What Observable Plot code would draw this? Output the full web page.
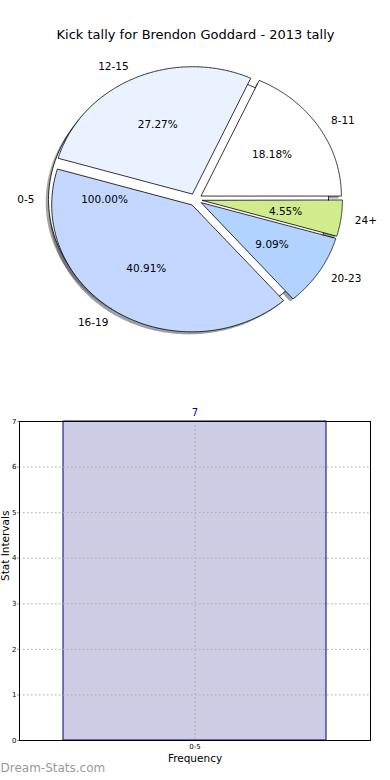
<!DOCTYPE html>
<html><head><meta charset="utf-8">
<script src="https://cdn.jsdelivr.net/npm/d3@7"></script>
<script src="https://cdn.jsdelivr.net/npm/@observablehq/plot@0.6"></script>
<style>
html,body{margin:0;padding:0;background:#fff;}
#chart svg{display:block;}
</style></head><body><div id="chart"></div>
<script>
// ---- data ----
const title = "Kick tally for Brendon Goddard - 2013 tally";
const pieLabels = ["0-5", "8-11", "12-15", "16-19", "20-23", "24+"];
const pieFractions = [1.0, 0.1818, 0.2727, 0.4091, 0.0909, 0.0455];
const pieColors = ["#ffffff", "#ffffff", "#eaf1ff", "#c4d8ff", "#b2d3ff", "#d0ec8c"];
const barCategories = ["0-5"];
const barValues = [7];
const yTicks = [0, 1, 2, 3, 4, 5, 6, 7];
const xLabel = "Frequency";
const yLabel = "Stat Intervals";
const watermark = "Dream-Stats.com";

// ---- pie geometry (normalize = false, explode all) ----
const explode = 0.05, labelDist = 1.1, pctDist = 0.6, shadowOff = 0.02;
const FONT = "DejaVu Sans, sans-serif";
let acc = 0;
const wedges = pieLabels.map((label, i) => {
  const t1 = acc * 360, t2 = (acc + pieFractions[i]) * 360;
  acc += pieFractions[i];
  const mid = ((t1 + t2) / 2) * Math.PI / 180;
  const ox = explode * Math.cos(mid), oy = explode * Math.sin(mid);
  const full = (t2 - t1) >= 360 - 1e-9;
  const pts = [];
  if (!full) pts.push({x: ox, y: oy});
  const N = 180;
  for (let k = 0; k <= N; k++) {
    const a = (t1 + (t2 - t1) * k / N) * Math.PI / 180;
    pts.push({x: ox + Math.cos(a), y: oy + Math.sin(a)});
  }
  const c = d3.rgb(pieColors[i]);
  return {
    label, frac: pieFractions[i], color: pieColors[i],
    shadowColor: d3.rgb(c.r * 0.3, c.g * 0.3, c.b * 0.3).formatHex(),
    pts,
    shadow: pts.map(p => ({x: p.x - shadowOff, y: p.y - shadowOff})),
    lx: ox + labelDist * Math.cos(mid), ly: oy + labelDist * Math.sin(mid),
    px: ox + pctDist * Math.cos(mid), py: oy + pctDist * Math.sin(mid),
    pct: (pieFractions[i] * 100).toFixed(2) + "%"
  };
});

// ---- pie plot ----
const W = 390, H1 = 370, H2 = 410;
const cx = 195, cy = 199, Rx = 140, Ry = 127;
const pie = Plot.plot({
  width: W, height: H1, margin: 0,
  style: {fontFamily: FONT, background: "#fff"},
  x: {type: "linear", domain: [-cx / Rx, (W - cx) / Rx], range: [0, W], axis: null},
  y: {type: "linear", domain: [-(H1 - cy) / Ry, cy / Ry], range: [H1, 0], axis: null},
  marks: [
    ...wedges.map(w => Plot.line(w.shadow, {x: "x", y: "y", curve: "linear-closed", fill: w.shadowColor, fillOpacity: 0.5, stroke: "none"})),
    ...wedges.map(w => Plot.line(w.pts, {x: "x", y: "y", curve: "linear-closed", fill: w.color, stroke: "#000", strokeWidth: 0.8})),
    Plot.text(wedges, {x: "px", y: "py", text: "pct", fontSize: 10.5, fill: "#000"}),
    Plot.text(wedges.filter(w => w.lx > 0), {x: "lx", y: "ly", text: "label", textAnchor: "start", fontSize: 10.5, fill: "#000"}),
    Plot.text(wedges.filter(w => w.lx <= 0), {x: "lx", y: "ly", text: "label", textAnchor: "end", fontSize: 10.5, fill: "#000"}),
    Plot.text([title], {frameAnchor: "top", dy: 29, fontSize: 13, fill: "#000"})
  ]
});

// ---- bar plot ----
const barData = barCategories.map((c, i) => ({cat: c, value: barValues[i]}));
const bar = Plot.plot({
  width: W, height: H2,
  marginLeft: 19, marginRight: 20, marginTop: 51, marginBottom: 40,
  style: {fontFamily: FONT, background: "#fff"},
  x: {type: "band", domain: barCategories, paddingInner: 0, paddingOuter: 0.1648, axis: null},
  y: {domain: [0, 7], axis: null},
  marks: [
    Plot.barY(barData, {x: "cat", y: "value", fill: "#ccccE5", stroke: "#000080", strokeWidth: 1}),
    Plot.gridY(yTicks, {stroke: "#aaa", strokeOpacity: 1, strokeDasharray: "1.5,2.5"}),
    Plot.gridX(barCategories, {stroke: "#aaa", strokeOpacity: 1, strokeDasharray: "1.5,2.5"}),
    Plot.axisY(yTicks, {tickSize: 2, tickPadding: 1, fontSize: 7, stroke: "#999", fill: "#000", label: null}),
    Plot.axisX(barCategories, {tickSize: 0, tickPadding: 4, fontSize: 7, fill: "#000", label: null}),
    Plot.frame({stroke: "#000", strokeWidth: 1}),
    Plot.text(barData, {x: "cat", y: "value", text: d => String(d.value), dy: -9, fontSize: 10, fill: "#0000aa"}),
    Plot.text([xLabel], {frameAnchor: "bottom", dy: 21, fontSize: 10.5, fill: "#000"}),
    Plot.text([yLabel], {frameAnchor: "left", dx: -13.5, rotate: -90, fontSize: 10.5, fill: "#000"}),
    Plot.text([watermark], {frameAnchor: "bottom-left", dx: -19, dy: 31, textAnchor: "start", fontSize: 12, fill: "#999"})
  ]
});

const root = document.getElementById("chart");
root.appendChild(pie);
root.appendChild(bar);
</script>
</body></html>
